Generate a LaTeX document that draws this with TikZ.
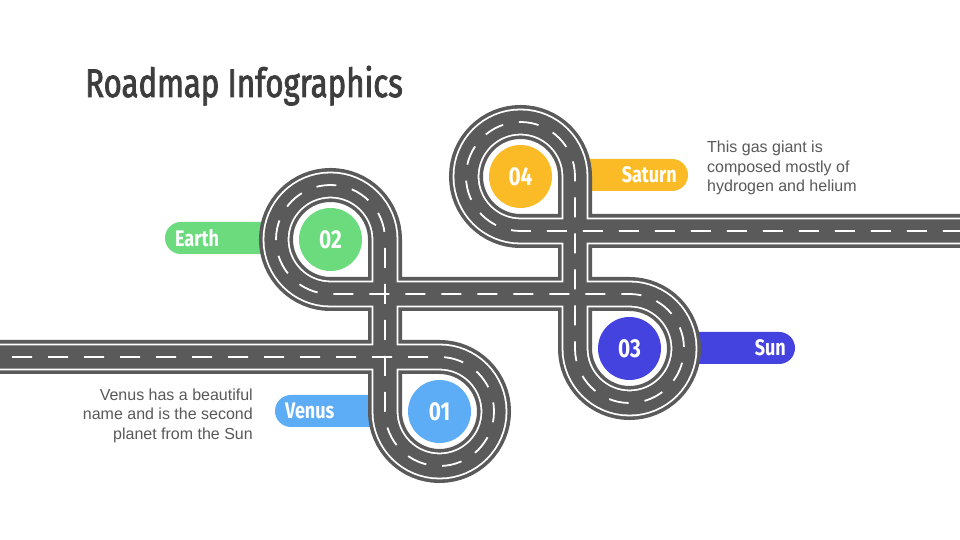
\documentclass[tikz,border=0pt]{standalone}
\usepackage{fontspec}
\setmainfont{Liberation Sans}
\newfontfamily\condfont[FakeStretch=0.8]{Fira Sans}
\newfontfamily\titlefont[FakeStretch=0.78,FakeBold=2]{Fira Sans}
\definecolor{roadgray}{HTML}{5A5A5A}
\definecolor{cBlue}{HTML}{5DADF6}
\definecolor{cGreen}{HTML}{6BDB7D}
\definecolor{cIndigo}{HTML}{4543E0}
\definecolor{cYellow}{HTML}{FBBB27}
\definecolor{titlegray}{HTML}{3D3D3D}
\definecolor{textgray}{HTML}{595959}
\tikzset{
  pill/.style={rounded corners=16pt},
  numdot/.style={circle, minimum size=63pt, inner sep=0pt, text=white, font=\condfont\bfseries\fontsize{26}{26}\selectfont},
  pilltext/.style={inner sep=0pt, text=white, font=\condfont\bfseries\fontsize{22.5}{22.5}\selectfont},
  desc/.style={inner sep=0pt, text=textgray, font=\fontsize{16}{19.5}\selectfont},
}
\begin{document}
\begin{tikzpicture}[x=1pt,y=1pt]
\useasboundingbox (0,0) rectangle (960,540);
\fill[white] (0,0) rectangle (960,540);
% label pills (under the road)
\fill[cGreen,pill] (165,286) rectangle (292,318);
\fill[cBlue,pill] (275,113) rectangle (395,145);
\fill[cYellow,pill] (562,349) rectangle (688,381);
\fill[cIndigo,pill] (672,176) rectangle (795,208);
% road
\def\roadpath{(0,183) -- (439.5,183) arc[start angle=90,end angle=-180,radius=54.5] -- (385,300.5) arc[start angle=0,end angle=270,radius=54.5] -- (629.5,246) arc[start angle=90,end angle=-180,radius=54.5] -- (575,363.5) arc[start angle=0,end angle=270,radius=54.5] -- (960,309)}
\draw[line width=34pt, roadgray] \roadpath;
\draw[line width=26.8pt, white] \roadpath;
\draw[line width=23.2pt, roadgray] \roadpath;
\draw[line width=1.8pt, white, dash pattern=on 20pt off 16pt, dash phase=24pt] \roadpath;
% numbered circles
\node[numdot, fill=cBlue] (n01) at (439.5,128.5) {01};
\node[numdot, fill=cGreen] (n02) at (330.5,300.5) {02};
\node[numdot, fill=cIndigo] (n03) at (629.5,191.5) {03};
\node[numdot, fill=cYellow] (n04) at (520.5,363.5) {04};
% pill labels
\node[pilltext, anchor=west] (lEarth) at (175,302) {Earth};
\node[pilltext, anchor=west] (lVenus) at (285,129) {Venus};
\node[pilltext, anchor=east] (lSaturn) at (677,365) {Saturn};
\node[pilltext, anchor=east] (lSun) at (786,192) {Sun};
% descriptions
\node[desc, anchor=east, align=right] (dVenus) at (253,124.5) {Venus has a beautiful\\name and is the second\\planet from the Sun};
\node[desc, anchor=west, align=left] (dSaturn) at (707,372) {This gas giant is\\composed mostly of\\hydrogen and helium};
% title
\node[inner sep=0pt, anchor=base west, text=titlegray, font=\titlefont\fontsize{40}{40}\selectfont] (title) at (85,443) {Roadmap Infographics};
\end{tikzpicture}
\end{document}
